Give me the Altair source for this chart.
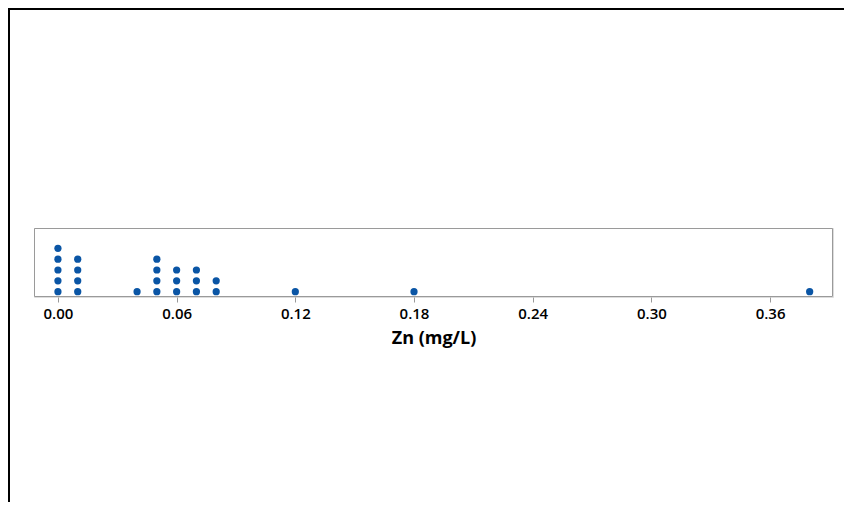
import altair as alt
import pandas as pd

# Zn values (mg/L) and how many dots are stacked at each
zn_values = [0.00, 0.01, 0.04, 0.05, 0.06, 0.07, 0.08, 0.12, 0.18, 0.38]
zn_counts = [5, 4, 1, 4, 3, 3, 2, 1, 1, 1]
tick_values = [0.00, 0.06, 0.12, 0.18, 0.24, 0.30, 0.36]

rows = []
for v, c in zip(zn_values, zn_counts):
    for i in range(c):
        rows.append({"zn": v, "stack": i})
df = pd.DataFrame(rows)

W, H = 799, 69

dots = alt.Chart(df).mark_circle(size=52, opacity=1, color="#0a55a5").encode(
    x=alt.X(
        "zn:Q",
        scale=alt.Scale(domain=[-0.0121, 0.3918], nice=False, zero=False),
        axis=alt.Axis(
            values=tick_values,
            format=".2f",
            title="Zn (mg/L)",
            grid=False,
            domain=False,
            tickColor="#999999",
            tickSize=5,
            labelFont="Open Sans",
            labelFontSize=15,
            labelFontWeight=600,
            labelColor="#000000",
            labelPadding=4,
            titleFont="Open Sans",
            titleFontSize=18,
            titleFontWeight="bold",
            titleColor="#000000",
            titlePadding=8,
        ),
    ),
    y=alt.Y(
        "stack:Q",
        scale=alt.Scale(domain=[-0.49, 5.87], nice=False, zero=False),
        axis=None,
    ),
)

one = pd.DataFrame({"a": [0]})

plot_frame = alt.Chart(one).mark_rect(
    fill=None, stroke="#9a9a9a", strokeWidth=1
).encode(
    x=alt.value(0.5),
    x2=alt.value(W - 0.5),
    y=alt.value(0.5),
    y2=alt.value(H - 0.5),
)

outer_frame = alt.Chart(one).mark_rect(
    fill=None, stroke="#000000", strokeWidth=2
).encode(
    x=alt.value(-25),
    x2=alt.value(900),
    y=alt.value(-219),
    y2=alt.value(600),
)

chart = alt.layer(plot_frame, dots, outer_frame).properties(
    width=W,
    height=H,
    padding={"left": 26, "top": 220, "right": 11, "bottom": 205},
    autosize=alt.AutoSizeParams(type="none"),
).configure_view(
    strokeOpacity=0
).configure(background="white")

chart.save("out.html", embed_options={"renderer": "svg", "actions": False})
